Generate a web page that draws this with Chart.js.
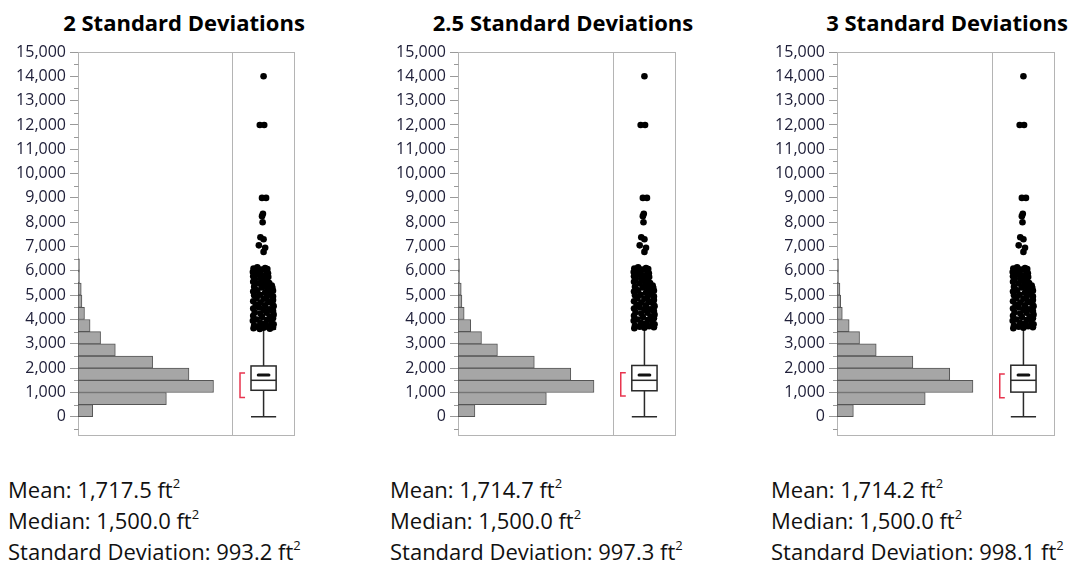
<!DOCTYPE html>
<html>
<head>
<meta charset="utf-8">
<script src="https://cdn.jsdelivr.net/npm/chart.js@4"></script>
<style>
body { margin: 0; width: 1078px; height: 567px; background: #fff; position: relative; overflow: hidden; font-family: "Open Sans", sans-serif; }
.title { position: absolute; top: 8px; width: 360px; text-align: center; font-weight: bold; font-size: 22px; line-height: 28px; color: #000; white-space: nowrap; }
.panel { position: absolute; top: 40px; height: 400px; }
.stats { position: absolute; top: 474px; font-size: 22px; line-height: 31px; color: #111; white-space: nowrap; }
sup { font-size: 13px; line-height: 0; vertical-align: 10px; }
</style>
</head>
<body>
<script>
const titles = ['2 Standard Deviations', '2.5 Standard Deviations', '3 Standard Deviations'];
const binCenters = [250, 750, 1250, 1750, 2250, 2750, 3250, 3750, 4250, 4750, 5250, 5750, 6250];
const countsSD2 = [150, 900, 1380, 1130, 760, 380, 230, 123, 66, 40, 33, 15, 15];
const countsSD25 = [173, 903, 1390, 1153, 780, 403, 240, 130, 63, 40, 33, 15, 15];
const countsSD3 = [167, 900, 1387, 1150, 774, 400, 230, 124, 54, 38, 30, 15, 15];
const histMax = [1570, 1583, 1580];
const yTicks = [0, 1000, 2000, 3000, 4000, 5000, 6000, 7000, 8000, 9000, 10000, 11000, 12000, 13000, 14000, 15000];
const minorTicks = [-500, 500, 1500, 2500, 3500, 4500, 5500, 6500, 7500, 8500, 9500, 10500, 11500, 12500, 13500, 14500];

const meanVals = [1717.5, 1714.7, 1714.2];
const medianVals = [1500, 1500, 1500];
const sdVals = [993.2, 997.3, 998.1];
const q1Vals = [1090, 1070, 1015];
const q3Vals = [2090, 2110, 2120];
const whiskerLo = [0, 0, 0];
const whiskerHi = [3600, 3660, 3660];
const shortLo = [790, 850, 785];
const shortHi = [1800, 1810, 1760];

// outliers: [value, jitter]
const outlierPts = [
  [14000, 0], [12000, -0.12], [12000, 0.02], [9000, -0.05], [9000, 0.08], [8350, -0.02], [8250, -0.05], [8000, -0.03],
  [7380, -0.1], [7300, 0], [7050, -0.15], [6950, 0.05], [6780, 0],
  [6150, -0.2], [6120, 0.05], [6100, -0.32], [6080, 0.12], [6050, -0.08], [6020, -0.25], [6000, 0.08], [5950, -0.34],
  [5920, -0.12], [5900, 0.14], [5850, -0.22], [5800, 0.02], [5780, -0.33], [5750, 0.15], [5700, -0.1], [5650, -0.28],
  [5620, 0.1], [5600, -0.02], [5550, -0.33], [5500, 0.18], [5480, -0.15], [5450, 0.05], [5400, 0.26], [5350, -0.3],
  [5320, -0.05], [5300, 0.28], [5250, 0.12], [5200, -0.2], [5180, 0.3], [5150, -0.33], [5100, 0.05], [5050, 0.22],
  [5020, -0.12], [5000, -0.3], [4950, 0.3], [4900, 0.1], [4880, -0.22], [4850, 0], [4800, 0.3], [4750, -0.33],
  [4720, 0.15], [4700, -0.1], [4650, 0.28], [4600, -0.25], [4580, 0.05], [4550, 0.32], [4500, -0.15], [4450, -0.33],
  [4420, 0.18], [4400, 0], [4350, 0.3], [4300, -0.28], [4280, 0.1], [4250, -0.1], [4200, 0.32], [4150, -0.33],
  [4120, 0.2], [4100, -0.05], [4050, 0.3], [4000, -0.22], [3980, 0.1], [3950, -0.34], [3900, 0.25], [3850, -0.1],
  [3820, 0.05], [3800, 0.32], [3750, -0.3], [3720, 0.15], [3700, -0.15], [3680, 0.3], [3660, 0], [3640, -0.32],
  [3620, 0.2], [3610, -0.12]
];

const allCounts = [countsSD2, countsSD25, countsSD3];
const panelLeft = [0, 380, 759];
const panelWidth = [299, 300, 300];
const titleCenter = [184, 563, 947];
const statsLeft = [8, 390, 771];

const fmt1 = v => v.toLocaleString('en-US', { minimumFractionDigits: 1, maximumFractionDigits: 1 });

const boxPlugin = {
  id: 'boxplot',
  beforeDatasetsDraw(chart, args, opts) {
    const k = opts.k;
    const { ctx, chartArea: a, scales: { y, xb } } = chart;
    const px = v => xb.getPixelForValue(v);
    const py = v => y.getPixelForValue(v);
    const L = Math.round(a.left) + 0.5, R = Math.round(a.right) - 0.5;
    const T = Math.round(a.top) + 0.5, B = Math.round(a.bottom) - 0.5;
    ctx.save();
    // frame + divider
    ctx.strokeStyle = '#b4b4b4';
    ctx.lineWidth = 1;
    ctx.strokeRect(L, T, R - L, B - T);
    const D = Math.round(xb.left) + 0.5;
    ctx.beginPath(); ctx.moveTo(D, T); ctx.lineTo(D, B); ctx.stroke();
    // minor ticks
    ctx.strokeStyle = '#999';
    minorTicks.forEach(v => {
      const yy = Math.round(py(v)) + 0.5;
      ctx.beginPath(); ctx.moveTo(L - 4.5, yy); ctx.lineTo(L, yy); ctx.stroke();
    });
    // whiskers
    ctx.strokeStyle = '#2a2a2a';
    ctx.lineWidth = 1.5;
    const cx = px(0), bl = px(-0.4), br = px(0.4);
    ctx.beginPath();
    ctx.moveTo(cx, py(q1Vals[k])); ctx.lineTo(cx, py(whiskerLo[k]));
    ctx.moveTo(cx, py(q3Vals[k])); ctx.lineTo(cx, py(whiskerHi[k]));
    ctx.moveTo(bl, py(whiskerLo[k])); ctx.lineTo(br, py(whiskerLo[k]));
    ctx.moveTo(bl, py(whiskerHi[k])); ctx.lineTo(br, py(whiskerHi[k]));
    ctx.stroke();
    // box
    ctx.fillStyle = '#fff';
    ctx.fillRect(bl, py(q3Vals[k]), br - bl, py(q1Vals[k]) - py(q3Vals[k]));
    ctx.strokeRect(bl, py(q3Vals[k]), br - bl, py(q1Vals[k]) - py(q3Vals[k]));
    ctx.beginPath();
    ctx.moveTo(bl, py(medianVals[k])); ctx.lineTo(br, py(medianVals[k]));
    ctx.stroke();
    // mean
    ctx.lineWidth = 3;
    ctx.lineCap = 'round';
    ctx.strokeStyle = '#111';
    ctx.beginPath();
    ctx.moveTo(px(-0.17), py(meanVals[k])); ctx.lineTo(px(0.17), py(meanVals[k]));
    ctx.stroke();
    // shortest half bracket
    ctx.lineCap = 'butt';
    ctx.lineWidth = 1.5;
    ctx.strokeStyle = '#e8354f';
    ctx.beginPath();
    ctx.moveTo(px(-0.59), py(shortHi[k]));
    ctx.lineTo(px(-0.75), py(shortHi[k]));
    ctx.lineTo(px(-0.75), py(shortLo[k]));
    ctx.lineTo(px(-0.59), py(shortLo[k]));
    ctx.stroke();
    ctx.restore();
  }
};

titles.forEach((t, k) => {
  const title = document.createElement('div');
  title.className = 'title';
  title.style.left = (titleCenter[k] - 180) + 'px';
  title.textContent = t;
  document.body.appendChild(title);

  const wrap = document.createElement('div');
  wrap.className = 'panel';
  wrap.style.left = panelLeft[k] + 'px';
  wrap.style.width = panelWidth[k] + 'px';
  const canvas = document.createElement('canvas');
  wrap.appendChild(canvas);
  document.body.appendChild(wrap);

  const stats = document.createElement('div');
  stats.className = 'stats';
  stats.style.left = statsLeft[k] + 'px';
  stats.innerHTML = `Mean: ${fmt1(meanVals[k])} ft<sup>2</sup><br>Median: ${fmt1(medianVals[k])} ft<sup>2</sup><br>Standard Deviation: ${fmt1(sdVals[k])} ft<sup>2</sup>`;
  document.body.appendChild(stats);

  const counts = allCounts[k];
  const pts = outlierPts.filter(p => p[0] >= whiskerHi[k] - 20).map(p => ({ x: p[1], y: p[0] }));

  new Chart(canvas, {
    data: {
      datasets: [
        {
          type: 'bar', indexAxis: 'y', xAxisID: 'x', yAxisID: 'y', grouped: false,
          data: binCenters.map((c, j) => ({ x: counts[j], y: c })),
          backgroundColor: '#a6a6a6', borderColor: '#555', borderWidth: 1, borderSkipped: false,
          barPercentage: 1, categoryPercentage: 1
        },
        {
          type: 'scatter', xAxisID: 'xb', yAxisID: 'y',
          data: pts, pointRadius: 3.3, backgroundColor: '#000', borderWidth: 0
        }
      ]
    },
    options: {
      responsive: true, maintainAspectRatio: false, animation: false, events: [],
      layout: { padding: { top: 12, right: 0, bottom: 0, left: 0 } },
      plugins: { legend: { display: false }, tooltip: { enabled: false }, boxplot: { k: k } },
      scales: {
        x: { type: 'linear', axis: 'x', position: 'bottom', stack: 'row', stackWeight: 157, min: 0, max: histMax[k], display: false },
        xb: { type: 'linear', axis: 'x', position: 'bottom', stack: 'row', stackWeight: 64, min: -1, max: 1, display: false },
        y: {
          type: 'linear', position: 'left', min: -790, max: 15000, offset: false,
          afterFit: s => { s.width = 78; s.paddingTop = 0; s.paddingBottom = 0; },
          afterBuildTicks: s => { s.ticks = yTicks.map(v => ({ value: v })); },
          grid: { offset: false, drawOnChartArea: false, tickLength: 8, color: '#999', tickColor: '#999' },
          border: { display: false },
          ticks: { padding: 4, color: '#20203a', font: { family: 'Open Sans', size: 16 }, callback: v => v.toLocaleString('en-US') }
        }
      }
    },
    plugins: [boxPlugin]
  });
});
</script>
</body>
</html>
